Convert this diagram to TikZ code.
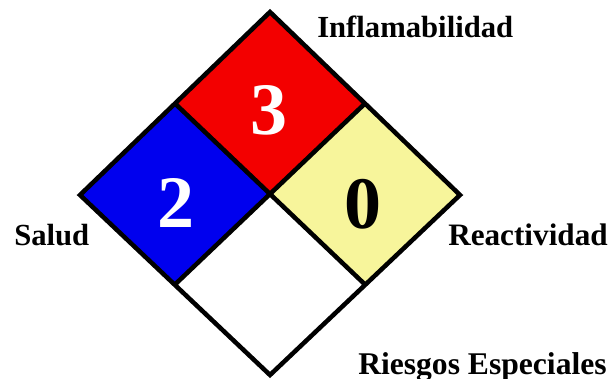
\documentclass[tikz,border=0pt]{standalone}
\usepackage{fontspec}
\setmainfont{Liberation Serif}
\usepackage{xcolor}

\definecolor{firered}{RGB}{243,0,0}
\definecolor{healthblue}{RGB}{0,0,238}
\definecolor{reactyellow}{RGB}{247,245,155}

\begin{document}
\begin{tikzpicture}[x=0.75pt,y=0.75pt,yscale=-1,xscale=1,
  panel/.style={draw=black,line width=3.4pt,line join=miter},
  cattext/.style={inner sep=0pt,anchor=base west,font=\bfseries\fontsize{23}{23}\selectfont},
  ratingnum/.style={inner sep=0pt,font=\bfseries\fontsize{55.5}{55.5}\selectfont}]
\useasboundingbox (0,0) rectangle (608,379);

% Corners of the diamond
\coordinate (top) at (270,12);
\coordinate (lft) at (80,195);
\coordinate (rgt) at (460,195);
\coordinate (bot) at (270,375);
\coordinate (ctr) at (270,193.5);
\coordinate (tl) at (175,103.5);
\coordinate (tr) at (365,103.5);
\coordinate (bl) at (175,284.5);
\coordinate (br) at (365,284.5);

%Shape: Square [flamability]
\fill [firered] (top) -- (tr) -- (ctr) -- (tl) -- cycle ;
%Shape: Square [health]
\fill [healthblue] (tl) -- (ctr) -- (bl) -- (lft) -- cycle ;
%Shape: Square [reactivity]
\fill [reactyellow] (tr) -- (rgt) -- (br) -- (ctr) -- cycle ;
%Shape: Square [special]
\fill [white] (ctr) -- (br) -- (bot) -- (bl) -- cycle ;

%Straight Lines [outline]
\draw [panel] (top) -- (rgt) -- (bot) -- (lft) -- cycle ;
\draw [panel] (tl) -- (br) ;
\draw [panel] (tr) -- (bl) ;

% Text Node
\node (num3) [ratingnum,text=white] at (268.5,110) {3};
% Text Node
\node (num2) [ratingnum,text=white] at (176,203) {2};
% Text Node
\node (num0) [ratingnum,text=black] at (363,204) {0};

% Text Node
\node (inflam) [cattext] at (317,37) {Inflamabilidad};
% Text Node
\node (salud) [cattext] at (14,245) {Salud};
% Text Node
\node (reacti) [cattext,font=\bfseries\fontsize{23.4}{23.4}\selectfont] at (448,245) {Reactividad};
% Text Node
\node (riesgos) [cattext,font=\bfseries\fontsize{23.7}{23.7}\selectfont] at (358,374) {Riesgos Especiales};

\end{tikzpicture}
\end{document}
